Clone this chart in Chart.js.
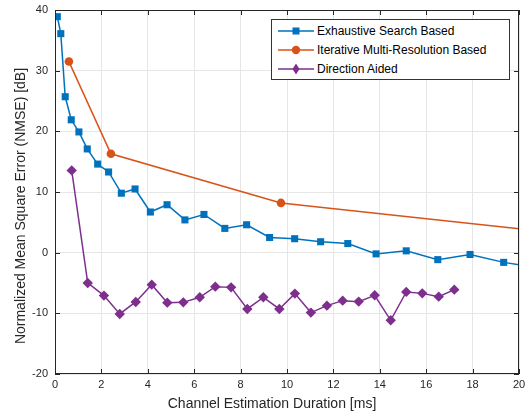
<!DOCTYPE html>
<html lang="en">
<head>
    <meta charset="UTF-8">
    <title>NMSE vs Channel Estimation Duration</title>
    <script src="https://cdn.jsdelivr.net/npm/chart.js"></script>
    <style>
        body { margin: 0; background: #fff; font-family: "Liberation Sans", Arial, sans-serif; }
        .wrap { position: relative; width: 526px; height: 412px; }
        .legend { position: absolute; left: 271px; top: 19px; width: 237px; height: 59px;
                  border: 1px solid #333; background: #fff; font-size: 12px; color: #000; }
        .legend .row { position: absolute; left: 6px; height: 16px; display: flex; align-items: center; }
        .legend svg { margin-right: 3px; }
    </style>
</head>
<body>
    <div class="wrap">
        <canvas id="nmseChart" width="526" height="412"></canvas>
        <div class="legend">
            <div class="row" style="top: 3px;">
                <svg width="36" height="12"><line x1="0" y1="6" x2="36" y2="6" stroke="#0072BD" stroke-width="1.5"/><rect x="14.5" y="2.5" width="7" height="7" fill="#0072BD"/></svg>
                Exhaustive Search Based
            </div>
            <div class="row" style="top: 22px;">
                <svg width="36" height="12"><line x1="0" y1="6" x2="36" y2="6" stroke="#D95319" stroke-width="1.5"/><circle cx="18" cy="6" r="4.2" fill="#D95319"/></svg>
                Iterative Multi-Resolution Based
            </div>
            <div class="row" style="top: 41px;">
                <svg width="36" height="14"><line x1="0" y1="7" x2="36" y2="7" stroke="#7E2F8E" stroke-width="1.5"/><polygon points="18,1.5 21.5,7 18,12.5 14.5,7" fill="#7E2F8E"/></svg>
                Direction Aided
            </div>
        </div>
    </div>

    <script>
        // Exhaustive Search Based
        const exhaustiveX = [0.10, 0.25, 0.44, 0.70, 1.03, 1.39, 1.84, 2.31, 2.86, 3.45, 4.11, 4.83, 5.60, 6.42, 7.32, 8.26, 9.25, 10.33, 11.45, 12.62, 13.84, 15.14, 16.50, 17.89, 19.34, 20.8];
        const exhaustiveY = [38.9, 36.1, 25.7, 21.9, 19.9, 17.1, 14.6, 13.3, 9.8, 10.5, 6.7, 7.9, 5.4, 6.3, 4.0, 4.6, 2.5, 2.3, 1.8, 1.5, -0.2, 0.3, -1.15, -0.3, -1.6, -2.5];

        // Iterative Multi-Resolution Based
        const iterativeX = [0.60, 2.41, 9.74, 39.0];
        const iterativeY = [31.5, 16.3, 8.2, -3.9];

        // Direction Aided
        const directionX = [0.72, 1.41, 2.11, 2.79, 3.48, 4.17, 4.84, 5.53, 6.24, 6.91, 7.59, 8.29, 8.98, 9.67, 10.34, 11.03, 11.72, 12.40, 13.09, 13.78, 14.47, 15.14, 15.83, 16.54, 17.21];
        const directionY = [13.56, -4.99, -7.08, -10.1, -8.12, -5.27, -8.24, -8.19, -7.36, -5.60, -5.72, -9.28, -7.36, -9.28, -6.75, -9.88, -8.73, -7.91, -8.07, -7.03, -11.15, -6.47, -6.71, -7.25, -6.10];

        const xTicks = [0, 2, 4, 6, 8, 10, 12, 14, 16, 18, 20];
        const yTicks = [-20, -10, 0, 10, 20, 30, 40];

        const xTitle = 'Channel Estimation Duration [ms]';
        const yTitle = 'Normalized Mean Square Error (NMSE) [dB]';

        const toPoints = (xs, ys) => xs.map((x, i) => ({ x: x, y: ys[i] }));

        // MATLAB-like box with inward ticks, plus the axis labels
        const framePlugin = {
            id: 'frame',
            afterDraw(chart) {
                const { ctx, chartArea: a, scales } = chart;
                ctx.save();
                ctx.strokeStyle = '#262626';
                ctx.lineWidth = 1;
                ctx.strokeRect(a.left + 0.5, a.top + 0.5, a.right - a.left - 1, a.bottom - a.top - 1);
                ctx.beginPath();
                xTicks.forEach(v => {
                    const px = Math.round(scales.x.getPixelForValue(v)) + 0.5;
                    ctx.moveTo(px, a.bottom); ctx.lineTo(px, a.bottom - 5);
                    ctx.moveTo(px, a.top); ctx.lineTo(px, a.top + 5);
                });
                yTicks.forEach(v => {
                    const py = Math.round(scales.y.getPixelForValue(v)) + 0.5;
                    ctx.moveTo(a.left, py); ctx.lineTo(a.left + 5, py);
                    ctx.moveTo(a.right, py); ctx.lineTo(a.right - 5, py);
                });
                ctx.stroke();

                // axis labels (sit a bit off-centre in the original figure)
                ctx.fillStyle = '#262626';
                ctx.font = '14px "Liberation Sans", Arial, sans-serif';
                ctx.textAlign = 'center';
                ctx.textBaseline = 'alphabetic';
                ctx.fillText(xTitle, (a.left + a.right) / 2 - 15, 407.5);
                ctx.translate(24.5, (a.top + a.bottom) / 2 + 14);
                ctx.rotate(-Math.PI / 2);
                ctx.fillText(yTitle, 0, 0);
                ctx.restore();
            }
        };

        const font = { family: '"Liberation Sans", Arial, sans-serif' };

        new Chart(document.getElementById('nmseChart'), {
            type: 'line',
            data: {
                datasets: [
                    {
                        label: 'Exhaustive Search Based',
                        data: toPoints(exhaustiveX, exhaustiveY),
                        borderColor: '#0072BD', backgroundColor: '#0072BD',
                        borderWidth: 1.5, pointStyle: 'rect', pointRadius: 5, pointBorderWidth: 0
                    },
                    {
                        label: 'Iterative Multi-Resolution Based',
                        data: toPoints(iterativeX, iterativeY),
                        borderColor: '#D95319', backgroundColor: '#D95319',
                        borderWidth: 1.5, pointStyle: 'circle', pointRadius: 4.3, pointBorderWidth: 0
                    },
                    {
                        label: 'Direction Aided',
                        data: toPoints(directionX, directionY),
                        borderColor: '#7E2F8E', backgroundColor: '#7E2F8E',
                        borderWidth: 1.5, pointStyle: 'rectRot', pointRadius: 5.2, pointBorderWidth: 0
                    }
                ]
            },
            options: {
                responsive: false,
                animation: false,
                layout: { padding: { top: 10, right: 7, left: 0, bottom: 0 } },
                plugins: { legend: { display: false }, tooltip: { enabled: false } },
                elements: { line: { tension: 0 } },
                scales: {
                    x: {
                        type: 'linear', min: 0, max: 20,
                        afterBuildTicks: s => { s.ticks = xTicks.map(v => ({ value: v })); },
                        afterFit: s => { s.height = 38; s.paddingLeft = 0; s.paddingRight = 0; },
                        grid: { color: '#e6e6e6', drawTicks: false },
                        border: { display: false },
                        ticks: { color: '#262626', font: { ...font, size: 11 }, padding: 4, maxRotation: 0 },
                        title: { display: false }
                    },
                    y: {
                        type: 'linear', min: -20, max: 40,
                        afterBuildTicks: s => { s.ticks = yTicks.map(v => ({ value: v })); },
                        afterFit: s => { s.width = 55; s.paddingTop = 0; s.paddingBottom = 0; },
                        grid: { color: '#e6e6e6', drawTicks: false },
                        border: { display: false },
                        ticks: { color: '#262626', font: { ...font, size: 11 }, padding: 7 },
                        title: { display: false }
                    }
                }
            },
            plugins: [framePlugin]
        });
    </script>
</body>
</html>
